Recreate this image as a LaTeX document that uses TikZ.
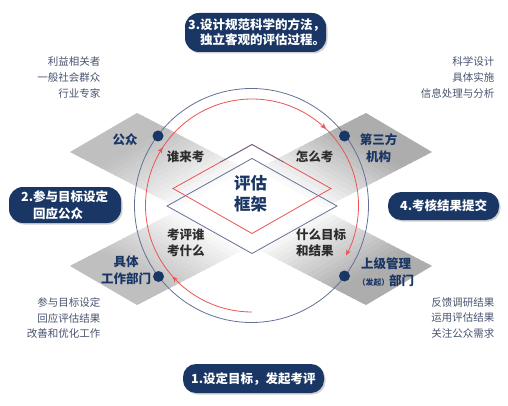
\documentclass[tikz,border=0pt]{standalone}
\usepackage{fontspec}
\setmainfont{Noto Sans CJK SC}
\usetikzlibrary{calc,decorations.markings,arrows.meta}
\definecolor{navy}{RGB}{26,54,100}
\definecolor{ringblue}{RGB}{100,114,152}
\definecolor{ringred}{RGB}{236,84,84}
\definecolor{notegray}{RGB}{72,84,112}
\definecolor{inkdark}{RGB}{45,45,45}
\tikzset{
  pillbox/.style={fill=navy, rounded corners=13pt, draw=none, inner sep=0pt},
  pillshadow/.style={fill=black!18, rounded corners=13pt, draw=none, inner sep=0pt},
  pilltext/.style={text=white, font=\fontsize{12.5pt}{14.5pt}\selectfont\bfseries, inner sep=0pt, anchor=west, align=left},
  note/.style={text=notegray, font=\fontsize{10.5pt}{15.8pt}\selectfont, inner sep=0pt, align=right, anchor=east},
  actor/.style={text=navy, font=\fontsize{12.5pt}{16.5pt}\selectfont\bfseries, inner sep=0pt, align=center},
  ask/.style={text=inkdark, font=\fontsize{12.5pt}{16pt}\selectfont\bfseries, inner sep=0pt, align=left},
  navydot/.style={circle, fill=navy, inner sep=0pt, minimum size=11pt},
  redhead/.style={-{Stealth[length=6pt,width=5pt]}}
}
\begin{document}
\begin{tikzpicture}[x=1pt,y=-1pt]
\useasboundingbox (0,0) rectangle (508,406);
\fill[white] (0,0) rectangle (508,406);

% diagonal bands
\coordinate (b1a) at (70,152);
\coordinate (b1b) at (137,113);
\coordinate (b1c) at (432,266);
\coordinate (b1d) at (366,305);
\coordinate (b2a) at (366,113);
\coordinate (b2b) at (432,152);
\coordinate (b2c) at (137,305);
\coordinate (b2d) at (70,266);
\foreach \A/\B/\C/\D/\ga/\gb in {b1a/b1b/b1c/b1d/25/32, b2a/b2b/b2c/b2d/32/25}{
  \foreach \i in {0,...,59}{
    \pgfmathsetmacro{\s}{\i/60}
    \pgfmathsetmacro{\t}{min(1,(\i+1.6)/60)}
    \pgfmathsetmacro{\sm}{(\i+0.5)/60}
    \pgfmathsetmacro{\sp}{abs(\sm-0.5)*2}
    \pgfmathsetmacro{\g}{(\sm<0.5 ? \ga : \gb)*max(0,min(1,(\sp-0.25)/0.55))}
    \fill[black!\g] ($(\A)!\s!(\D)$) -- ($(\B)!\s!(\C)$) -- ($(\B)!\t!(\C)$) -- ($(\A)!\t!(\D)$) -- cycle;
  }
}

% rings
\coordinate (bc) at (251.5,205.5);
\coordinate (rc) at (252,205.5);
\draw[ringblue, line width=0.8pt] (bc) circle[radius=117];
\draw[ringred, line width=0.8pt, redhead, postaction={decorate}, decoration={markings,
  mark=at position 0.162 with {\arrow{Stealth[length=6pt,width=5pt]}},
  mark=at position 0.413 with {\arrow{Stealth[length=6pt,width=5pt]}},
  mark=at position 0.752 with {\arrow{Stealth[length=6pt,width=5pt]}}}]
  ($(rc)+(90:106.5)$) arc[start angle=90, end angle=388, radius=106.5];

% central rhombi
\coordinate (ut) at (252,144.5);
\coordinate (ur) at (331,188.5);
\coordinate (ub) at (252,233.5);
\coordinate (ul) at (173,188.5);
\coordinate (lt) at (252,158.5);
\coordinate (lr) at (337,206);
\coordinate (lb) at (252,253.5);
\coordinate (ll) at (167,206);
\draw[ringblue, line width=0.8pt] (lt) -- (lr) -- (lb) -- (ll) -- cycle;
\draw[ringred, line width=0.8pt] (ut) -- (ur) -- (ub) -- (ul) -- cycle;
\draw[ringblue, line width=0.8pt] ($(ut)!0.4!(ul)$) -- (ut) -- ($(ut)!0.4!(ur)$);

% dots
\node[navydot] (d1) at (158,136) {};
\node[navydot] (d2) at (344.5,136) {};
\node[navydot] (d3) at (158.5,276.5) {};
\node[navydot] (d4) at (344.5,276) {};

% actor labels
\node[actor] (gz) at (125,140) {公众};
\node[actor] (dsf) at (378.5,148) {第三方\\机构};
\node[actor] (jt) at (126,270.5) {具体\\工作部门};
\node[actor] (sj) at (386,272) {上级管理\\{\fontsize{7.8pt}{8pt}\selectfont（发起）}部门};

% question labels
\node[ask] (q1) at (185.5,156.5) {谁来考};
\node[ask] (q2) at (314.5,156.5) {怎么考};
\node[ask, anchor=west] (q3) at (167,243) {考评谁\\考什么};
\node[ask, anchor=west] (q4) at (296,243) {什么目标\\和结果};

% centre
\node[text=navy, font=\fontsize{16.5pt}{21pt}\selectfont\bfseries, inner sep=0pt, align=center] (ctr) at (250.5,194) {评估\\框架};

% notes
\node[note] (n1) at (100.5,77.5) {利益相关者\\一般社会群众\\行业专家};
\node[note] (n2) at (494.5,77.5) {科学设计\\具体实施\\信息处理与分析};
\node[note] (n3) at (100.5,318) {参与目标设定\\回应评估结果\\改善和优化工作};
\node[note] (n4) at (494.5,318) {反馈调研结果\\运用评估结果\\关注公众需求};

% step boxes
\node[pillshadow, minimum width=141pt, minimum height=39pt, rounded corners=14pt] (s3s) at (257,34) {};
\node[pillbox, minimum width=141pt, minimum height=39pt, rounded corners=14pt] (s3) at (255.5,32.5) {};
\node[pilltext] (t3) at (188,32) {3.设计规范科学的方法，\\\phantom{3.}独立客观的评估过程。};

\node[pillshadow, minimum width=112pt, minimum height=36pt, rounded corners=14pt] (s2s) at (66.5,206.5) {};
\node[pillbox, minimum width=112pt, minimum height=36pt, rounded corners=14pt] (s2) at (65,205) {};
\node[pilltext, font=\fontsize{12.5pt}{16.5pt}\selectfont\bfseries] (t2) at (21,205) {2.参与目标设定\\\phantom{2.}回应公众};

\node[pillshadow, minimum width=111pt, minimum height=28pt] (s4s) at (445,207.5) {};
\node[pillbox, minimum width=111pt, minimum height=28pt] (s4) at (443.5,206) {};
\node[pilltext] (t4) at (400,205.5) {4.考核结果提交};

\node[pillshadow, minimum width=141pt, minimum height=29pt] (s1s) at (255,380) {};
\node[pillbox, minimum width=141pt, minimum height=29pt] (s1) at (253.5,378.5) {};
\node[pilltext] (t1) at (191,379) {1.设定目标，发起考评};
\end{tikzpicture}
\end{document}
